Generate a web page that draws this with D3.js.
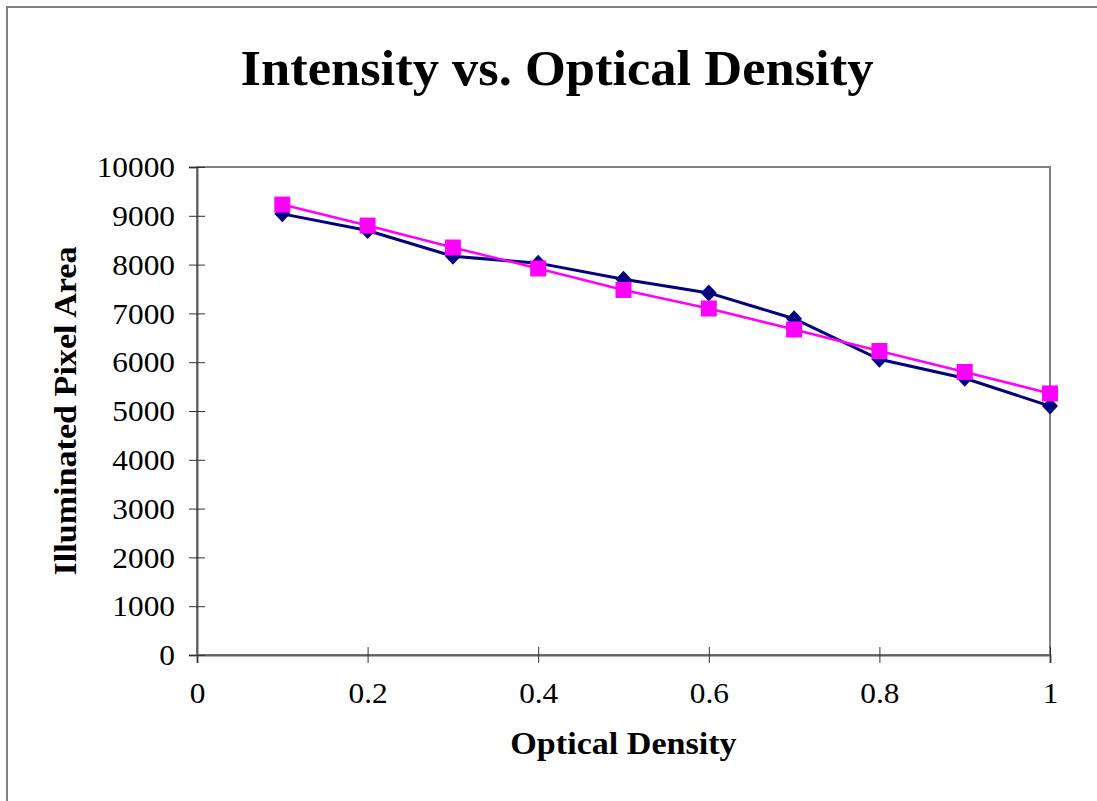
<!DOCTYPE html>
<html>
<head>
<meta charset="utf-8">
<script src="https://cdn.jsdelivr.net/npm/d3@7"></script>
<style>
  body { margin: 0; background: #fff; }
  svg text { font-family: "Liberation Serif", "Times New Roman", serif; fill: #000; }
</style>
</head>
<body>
<svg id="chart" width="1097" height="801"></svg>
<script>
// data
const opticalDensity = [0.1, 0.2, 0.3, 0.4, 0.5, 0.6, 0.7, 0.8, 0.9, 1.0];
const seriesDiamond = [9040, 8700, 8170, 8030, 7700, 7420, 6890, 6060, 5670, 5100];
const seriesSquare = [9230, 8800, 8350, 7920, 7480, 7100, 6670, 6230, 5800, 5360];
const xTicks = [0, 0.2, 0.4, 0.6, 0.8, 1];
const yTicks = [0, 1000, 2000, 3000, 4000, 5000, 6000, 7000, 8000, 9000, 10000];

const margin = { top: 167, left: 197, right: 47, bottom: 146 };
const width = 1097 - margin.left - margin.right;
const height = 801 - margin.top - margin.bottom;
const stretch = 1.1; // the original text is a little wider than Times

const svg = d3.select('svg#chart');

// outer chart frame (runs off the right and bottom edge)
svg.append('rect')
    .attr('x', 7).attr('y', 7)
    .attr('width', 1120).attr('height', 820)
    .attr('fill', 'none')
    .attr('stroke', '#808080')
    .attr('stroke-width', 2);

svg.append('text')
    .attr('transform', `translate(557,85) scale(1.05,1)`)
    .attr('text-anchor', 'middle')
    .style('font-size', '50px')
    .style('font-weight', 'bold')
    .text('Intensity vs. Optical Density');

const g = svg.append('g')
    .attr('transform', `translate(${margin.left},${margin.top})`);

const xScale = d3.scaleLinear().domain([0, 1]).range([0, width]);
const yScale = d3.scaleLinear().domain([0, 10000]).range([height, 0]);

// plot area frame
g.append('rect')
    .attr('width', width).attr('height', height)
    .attr('fill', 'none')
    .attr('stroke', '#808080')
    .attr('stroke-width', 2);

const xAxis = g.append('g')
    .attr('class', 'x-axis')
    .attr('transform', `translate(0,${height})`)
    .call(d3.axisBottom(xScale).tickValues(xTicks).tickFormat(d3.format('')).tickSize(8));
xAxis.select('.domain').attr('stroke', '#606060').attr('stroke-width', 2);
xAxis.selectAll('.tick line').attr('y1', -8).attr('y2', 8).attr('stroke', '#333');
xAxis.selectAll('.tick text')
    .style('font-size', '28.5px')
    .attr('y', 48).attr('dy', null)
    .attr('transform', `scale(${stretch},1)`);

const yAxis = g.append('g')
    .attr('class', 'y-axis')
    .call(d3.axisLeft(yScale).tickValues(yTicks).tickFormat(d3.format('')).tickSize(8));
yAxis.select('.domain').attr('stroke', '#606060').attr('stroke-width', 2);
yAxis.selectAll('.tick line').attr('x1', -8).attr('x2', 8).attr('stroke', '#333');
yAxis.selectAll('.tick text')
    .style('font-size', '28.5px')
    .attr('x', -22 / stretch)
    .attr('dy', '0.34em')
    .attr('transform', `scale(${stretch},1)`);

// axis titles
svg.append('text')
    .attr('transform', `translate(${margin.left + width / 2},754) scale(${stretch},1)`)
    .attr('text-anchor', 'middle')
    .style('font-size', '31px')
    .style('font-weight', 'bold')
    .text('Optical Density');

svg.append('text')
    .attr('transform', `translate(76,${margin.top + height / 2}) rotate(-90) scale(${stretch},1)`)
    .attr('text-anchor', 'middle')
    .style('font-size', '31px')
    .style('font-weight', 'bold')
    .text('Illuminated Pixel Area');

const lineGen = d3.line()
    .x((d, i) => xScale(opticalDensity[i]))
    .y(d => yScale(d));

// navy diamond series
g.append('path')
    .datum(seriesDiamond)
    .attr('fill', 'none')
    .attr('stroke', '#000080')
    .attr('stroke-width', 3)
    .attr('d', lineGen);

g.append('g').selectAll('path')
    .data(seriesDiamond)
    .enter()
    .append('path')
    .attr('transform', (d, i) => `translate(${xScale(opticalDensity[i])},${yScale(d)})`)
    .attr('d', 'M0,-8.5L8,0L0,8.5L-8,0Z')
    .attr('fill', '#000080');

// magenta square series
g.append('path')
    .datum(seriesSquare)
    .attr('fill', 'none')
    .attr('stroke', '#FF00FF')
    .attr('stroke-width', 2.5)
    .attr('d', lineGen);

g.append('g').selectAll('rect')
    .data(seriesSquare)
    .enter()
    .append('rect')
    .attr('x', (d, i) => xScale(opticalDensity[i]) - 8)
    .attr('y', d => yScale(d) - 8)
    .attr('width', 16).attr('height', 16)
    .attr('fill', '#FF00FF');
</script>
</body>
</html>
